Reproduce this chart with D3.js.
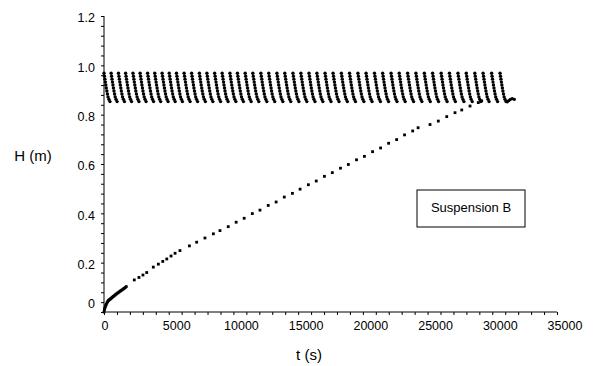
<!DOCTYPE html>
<html>
<head>
<meta charset="utf-8">
<script src="https://cdn.jsdelivr.net/npm/d3@7"></script>
<style>
  html, body { margin: 0; padding: 0; background: #fff; }
  text { font-family: 'Liberation Sans', Arial, sans-serif; fill: #000; }
</style>
</head>
<body>
<div id="chart"></div>
<script>
// rising interface (squares)
const riseT = [0, 30, 60, 100, 140, 180, 230, 280, 330, 390, 450, 510, 590, 650, 720, 790, 860, 930,
  1000, 1080, 1160, 1240, 1320, 1400, 1480, 1560, 1640, 1720,
  2340, 2700, 3010, 3300, 3810, 4200, 4540, 4850, 5180, 5490, 5870, 6600, 7160, 7800, 8450, 8960,
  9600, 10210, 10830, 11460, 12050, 12690, 13300, 13930, 14560, 15150, 15790, 16400, 17030,
  17640, 18270, 18880, 19510, 20120, 20750, 21370, 21990, 22610, 23220, 23850, 24270,
  25190, 25830, 26480, 27120, 27640, 28280, 28920, 29180];
const riseH = [0, 0.009, 0.015, 0.021, 0.027, 0.032, 0.037, 0.042, 0.046, 0.049, 0.051, 0.054, 0.057, 0.060, 0.063, 0.066, 0.069, 0.072,
  0.075, 0.078, 0.081, 0.084, 0.087, 0.090, 0.093, 0.096, 0.099, 0.103,
  0.130, 0.140, 0.150, 0.160, 0.182, 0.194, 0.205, 0.215, 0.227, 0.238, 0.249, 0.268, 0.283, 0.300, 0.317, 0.330,
  0.346, 0.364, 0.380, 0.399, 0.413, 0.432, 0.446, 0.466, 0.481, 0.498, 0.516, 0.531, 0.550,
  0.565, 0.583, 0.598, 0.617, 0.631, 0.650, 0.665, 0.684, 0.699, 0.718, 0.734, 0.747,
  0.760, 0.774, 0.792, 0.808, 0.819, 0.835, 0.849, 0.856];

// top level of the suspension: refill instants and the fall after each refill
const refillT = [0, 550, 1120, 1670, 2240, 2790, 3370, 3920, 4490, 5040, 5600,
  6190, 6770, 7370, 7950, 8550, 9130, 9730, 10310, 10910, 11500,
  12120, 12730, 13360, 13970, 14600, 15210, 15840, 16450, 17080, 17700,
  18340, 18970, 19620, 20250, 20900, 21530, 22180, 22810, 23460, 24100,
  24750, 25390, 26050, 26690, 27350, 27990, 28650, 29290, 29950, 30600];
const fallDt = [0, 35, 70, 105, 140, 180, 220, 265, 315, 380, 460];
const fallH = [0.968, 0.956, 0.944, 0.932, 0.920, 0.908, 0.896, 0.884, 0.872, 0.862, 0.853];
const lastTailDt = [560, 680, 800, 940, 1100];
const lastTailH = [0.852, 0.857, 0.862, 0.865, 0.862];

const xTicks = [0, 5000, 10000, 15000, 20000, 25000, 30000, 35000];
const yTicks = [0, 0.2, 0.4, 0.6, 0.8, 1.0, 1.2];
const yLabels = ['0', '0.2', '0.4', '0.6', '0.8', '1.0', '1.2'];

const W = 598, H = 366;
const svg = d3.select('#chart').append('svg').attr('width', W).attr('height', H);
svg.append('rect').attr('width', W).attr('height', H).attr('fill', '#fff');

const x = d3.scaleLinear().domain([0, 35000]).range([104, 557]);
const y = d3.scaleLinear().domain([0, 1.2]).range([312, 16]);

// axes
const gx = svg.append('g').attr('transform', `translate(0,${y(0)})`);
gx.call(d3.axisBottom(x).tickValues(d3.range(0, 35001, 1000)).tickSize(3).tickFormat(''));
gx.selectAll('path, line').attr('stroke', '#000').attr('stroke-width', 1);
gx.select('.domain').attr('d', `M${x(0)},0H${x(35000)}`);

svg.append('g').selectAll('text').data(xTicks).enter().append('text')
  .attr('x', (d) => x(d) + (d === 0 ? 1 : 8))
  .attr('y', y(0) + 18)
  .attr('text-anchor', 'middle')
  .attr('font-size', 12.5)
  .text((d) => d);

const gy = svg.append('g').attr('transform', `translate(${x(0)},0)`);
gy.call(d3.axisLeft(y).tickValues(d3.range(0, 1.2001, 0.04)).tickSize(3).tickFormat(''));
gy.selectAll('path, line').attr('stroke', '#000').attr('stroke-width', 1);
gy.select('.domain').attr('d', `M0,${y(0)}V${y(1.2)}`);

svg.append('g').selectAll('text').data(yTicks).enter().append('text')
  .attr('x', x(0) - 9)
  .attr('y', (d) => y(d) + (d === 0 ? -7 : 3))
  .attr('text-anchor', 'end')
  .attr('dominant-baseline', 'middle')
  .attr('font-size', 12.5)
  .text((d, i) => yLabels[i]);

// axis titles
svg.append('text').attr('x', 33).attr('y', 157).attr('text-anchor', 'middle')
  .attr('dominant-baseline', 'middle').attr('font-size', 15).text('H (m)');
svg.append('text').attr('x', 309).attr('y', 356).attr('text-anchor', 'middle')
  .attr('dominant-baseline', 'middle').attr('font-size', 15).text('t (s)');

// top-level points
const topPts = [];
refillT.forEach((t0, i) => {
  fallDt.forEach((dt, k) => topPts.push([t0 + dt, fallH[k]]));
  if (i === refillT.length - 1) {
    lastTailDt.forEach((dt, k) => topPts.push([t0 + dt, lastTailH[k]]));
  }
});
svg.append('g').selectAll('circle').data(topPts).enter().append('circle')
  .attr('cx', (d) => x(d[0]))
  .attr('cy', (d) => y(d[1]))
  .attr('r', 1.7)
  .attr('fill', '#000');

// rising interface points
svg.append('g').selectAll('rect').data(riseT).enter().append('rect')
  .attr('x', (d) => x(d) - 1.4)
  .attr('y', (d, i) => y(riseH[i]) - 1.4)
  .attr('width', 2.8)
  .attr('height', 2.8)
  .attr('fill', '#000');

// label box
const box = svg.append('g');
box.append('rect').attr('x', 417).attr('y', 190).attr('width', 108).attr('height', 37)
  .attr('fill', '#fff').attr('stroke', '#000').attr('stroke-width', 1);
box.append('text').attr('x', 471).attr('y', 209).attr('text-anchor', 'middle')
  .attr('dominant-baseline', 'middle').attr('font-size', 13).text('Suspension B');
</script>
</body>
</html>
